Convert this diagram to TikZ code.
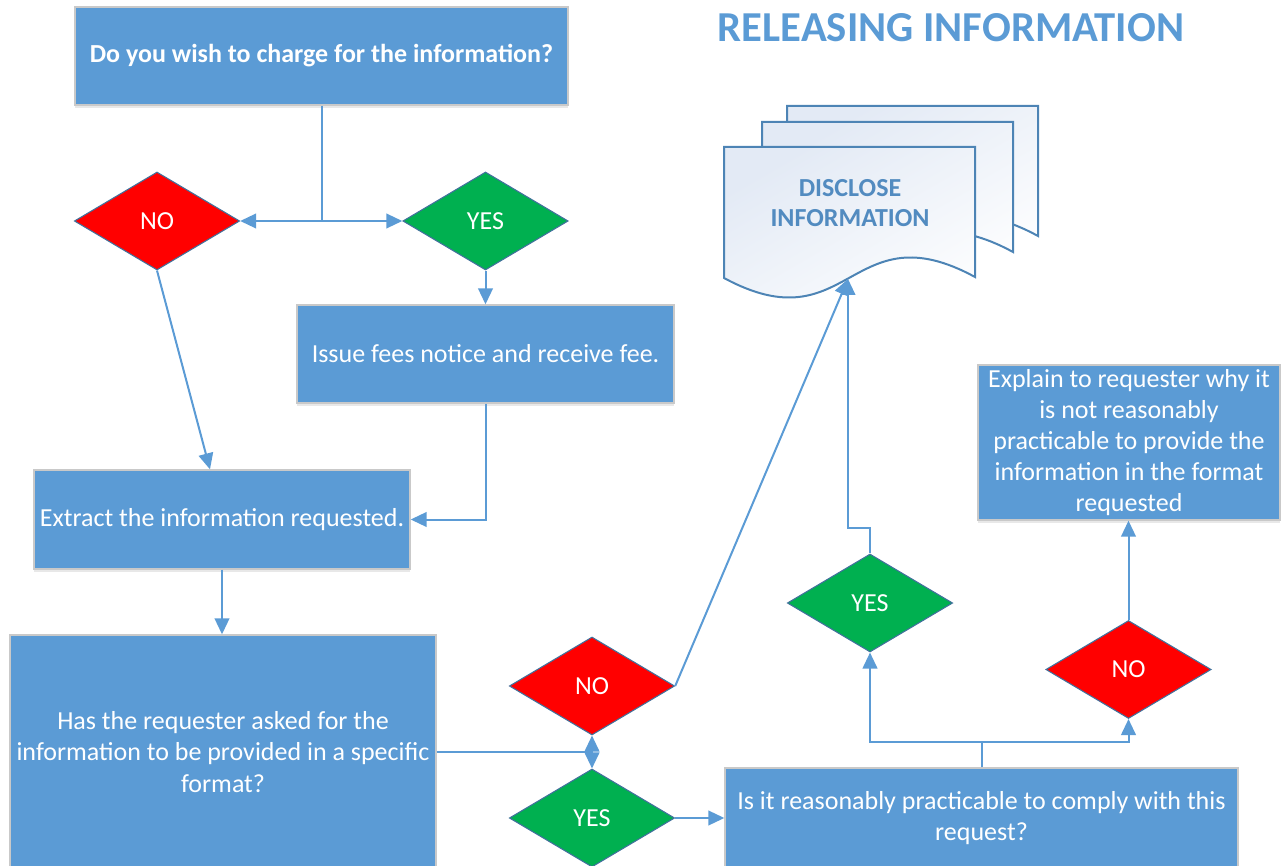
\documentclass[tikz,border=0pt]{standalone}
\usepackage{fontspec}
\setmainfont{Carlito}
\usetikzlibrary{shapes.geometric,arrows.meta,shadows}
\definecolor{azul}{HTML}{5B9BD5}
\definecolor{rojo}{HTML}{FF0000}
\definecolor{verde}{HTML}{00B050}
\definecolor{borde}{HTML}{41719C}
\definecolor{gris}{HTML}{C9C9C9}
\definecolor{docazul}{HTML}{E3EAF5}
\begin{document}
\begin{tikzpicture}[x=0.75pt, y=-0.75pt, line width=1.5pt,
  caja/.style={rectangle, fill=azul, draw=gris, line width=1pt, text=white, align=center, inner sep=2pt,
    font=\fontsize{19.5}{23.3}\selectfont, drop shadow={opacity=0.18, shadow xshift=0pt, shadow yshift=-2pt}},
  rombo/.style={diamond, draw=borde, line width=0.8pt, text=white, inner sep=0pt,
    minimum width=124pt, minimum height=73.5pt, font=\fontsize{19.5}{23.3}\selectfont},
  rombono/.style={rombo, fill=rojo},
  rombosi/.style={rombo, fill=verde},
  flecha/.style={draw=azul, line width=1.5pt, -{Triangle[length=12pt,width=11pt]}},
  linea/.style={draw=azul, line width=1.5pt},
  docu/.style={draw=azul!85!black, line width=1.5pt, top color=docazul, bottom color=white, shading angle=30}]
\useasboundingbox (0,0) rectangle (1282,866);
% Titulo
\node [font=\bfseries\fontsize{32}{36}\selectfont, text=azul] (T) at (951,28) {RELEASING INFORMATION};
% Documentos
\foreach \dx/\dy in {63/-41, 38/-25, 0/0}
  \draw [docu, shift={(\dx,\dy)}] (724,147) -- (975,147) -- (975,277) .. controls (850,209) and (850,346) .. (724,278) -- cycle;
\node [font=\bfseries\fontsize{19.5}{22.5}\selectfont, text=azul!90!black, align=center] (D) at (850,203) {DISCLOSE\\INFORMATION};
\coordinate (DI) at (848,279);
% Nodos
\node [caja, font=\bfseries\fontsize{19.5}{23.3}\selectfont, minimum width=369.75pt, minimum height=73.5pt] (Q1) at (321.5,56) {Do you wish to charge for the information?};
\node [rombono] (N1) at (157,221) {NO};
\node [rombosi] (Y1) at (485.5,221) {YES};
\node [caja, minimum width=282.75pt, minimum height=73.5pt] (P1) at (485.5,354) {Issue fees notice and receive fee.};
\node [caja, minimum width=282pt, minimum height=74.25pt] (P2) at (222,519.5) {Extract the information requested.};
\node [caja, minimum width=319.5pt, minimum height=175.5pt] (Q2) at (223,752) {Has the requester asked for the\\information to be provided in a specific\\format?};
\node [rombono] (N2) at (592,686) {NO};
\node [rombosi] (Y2) at (592,818) {YES};
\node [caja, minimum width=384.75pt, minimum height=75pt] (Q3) at (981.5,818) {Is it reasonably practicable to comply with this\\request?};
\node [rombosi] (Y3) at (870,603) {YES};
\node [rombono] (N3) at (1128.5,669.5) {NO};
\node [caja, minimum width=226.5pt, minimum height=116.25pt] (P3) at (1129,442.5) {Explain to requester why it\\is not reasonably\\practicable to provide the\\information in the format\\requested};
% Ejes
% ---
% Q1
% ---
\coordinate (J1) at (Q1.south |- N1.east);
\draw [linea] (Q1.south) -- (J1);
\draw [flecha] (J1) -- (N1.east);
\draw [flecha] (J1) -- (Y1.west);
\draw [flecha] (Y1.south) -- (P1.north);
\draw [flecha] (N1.south) -- ([xshift=-9pt]P2.north);
\draw [flecha] (P1.south) |- (P2.east);
\draw [flecha] (P2.south) -- (P2.south |- Q2.north);
% ---
% Q2
% ---
\coordinate (J2) at (Q2.east -| N2.south);
\draw [linea] (Q2.east) -- (J2);
\draw [flecha] (J2) -- (N2.south);
\draw [flecha] (J2) -- (Y2.north);
\draw [flecha] (N2.east) -- (DI);
\draw [flecha] (Y2.east) -- (Q3.west);
% ---
% Q3
% ---
\coordinate (J3) at ([yshift=19pt]Q3.north);
\draw [linea] (Q3.north) -- (J3);
\draw [flecha] (J3) -| (Y3.south);
\draw [flecha] (J3) -| (N3.south);
\draw [flecha] (Y3.north) -- ++(0,-25) -| (DI);
\draw [flecha] (N3.north) -- (N3.north |- P3.south);
\end{tikzpicture}
\end{document}
